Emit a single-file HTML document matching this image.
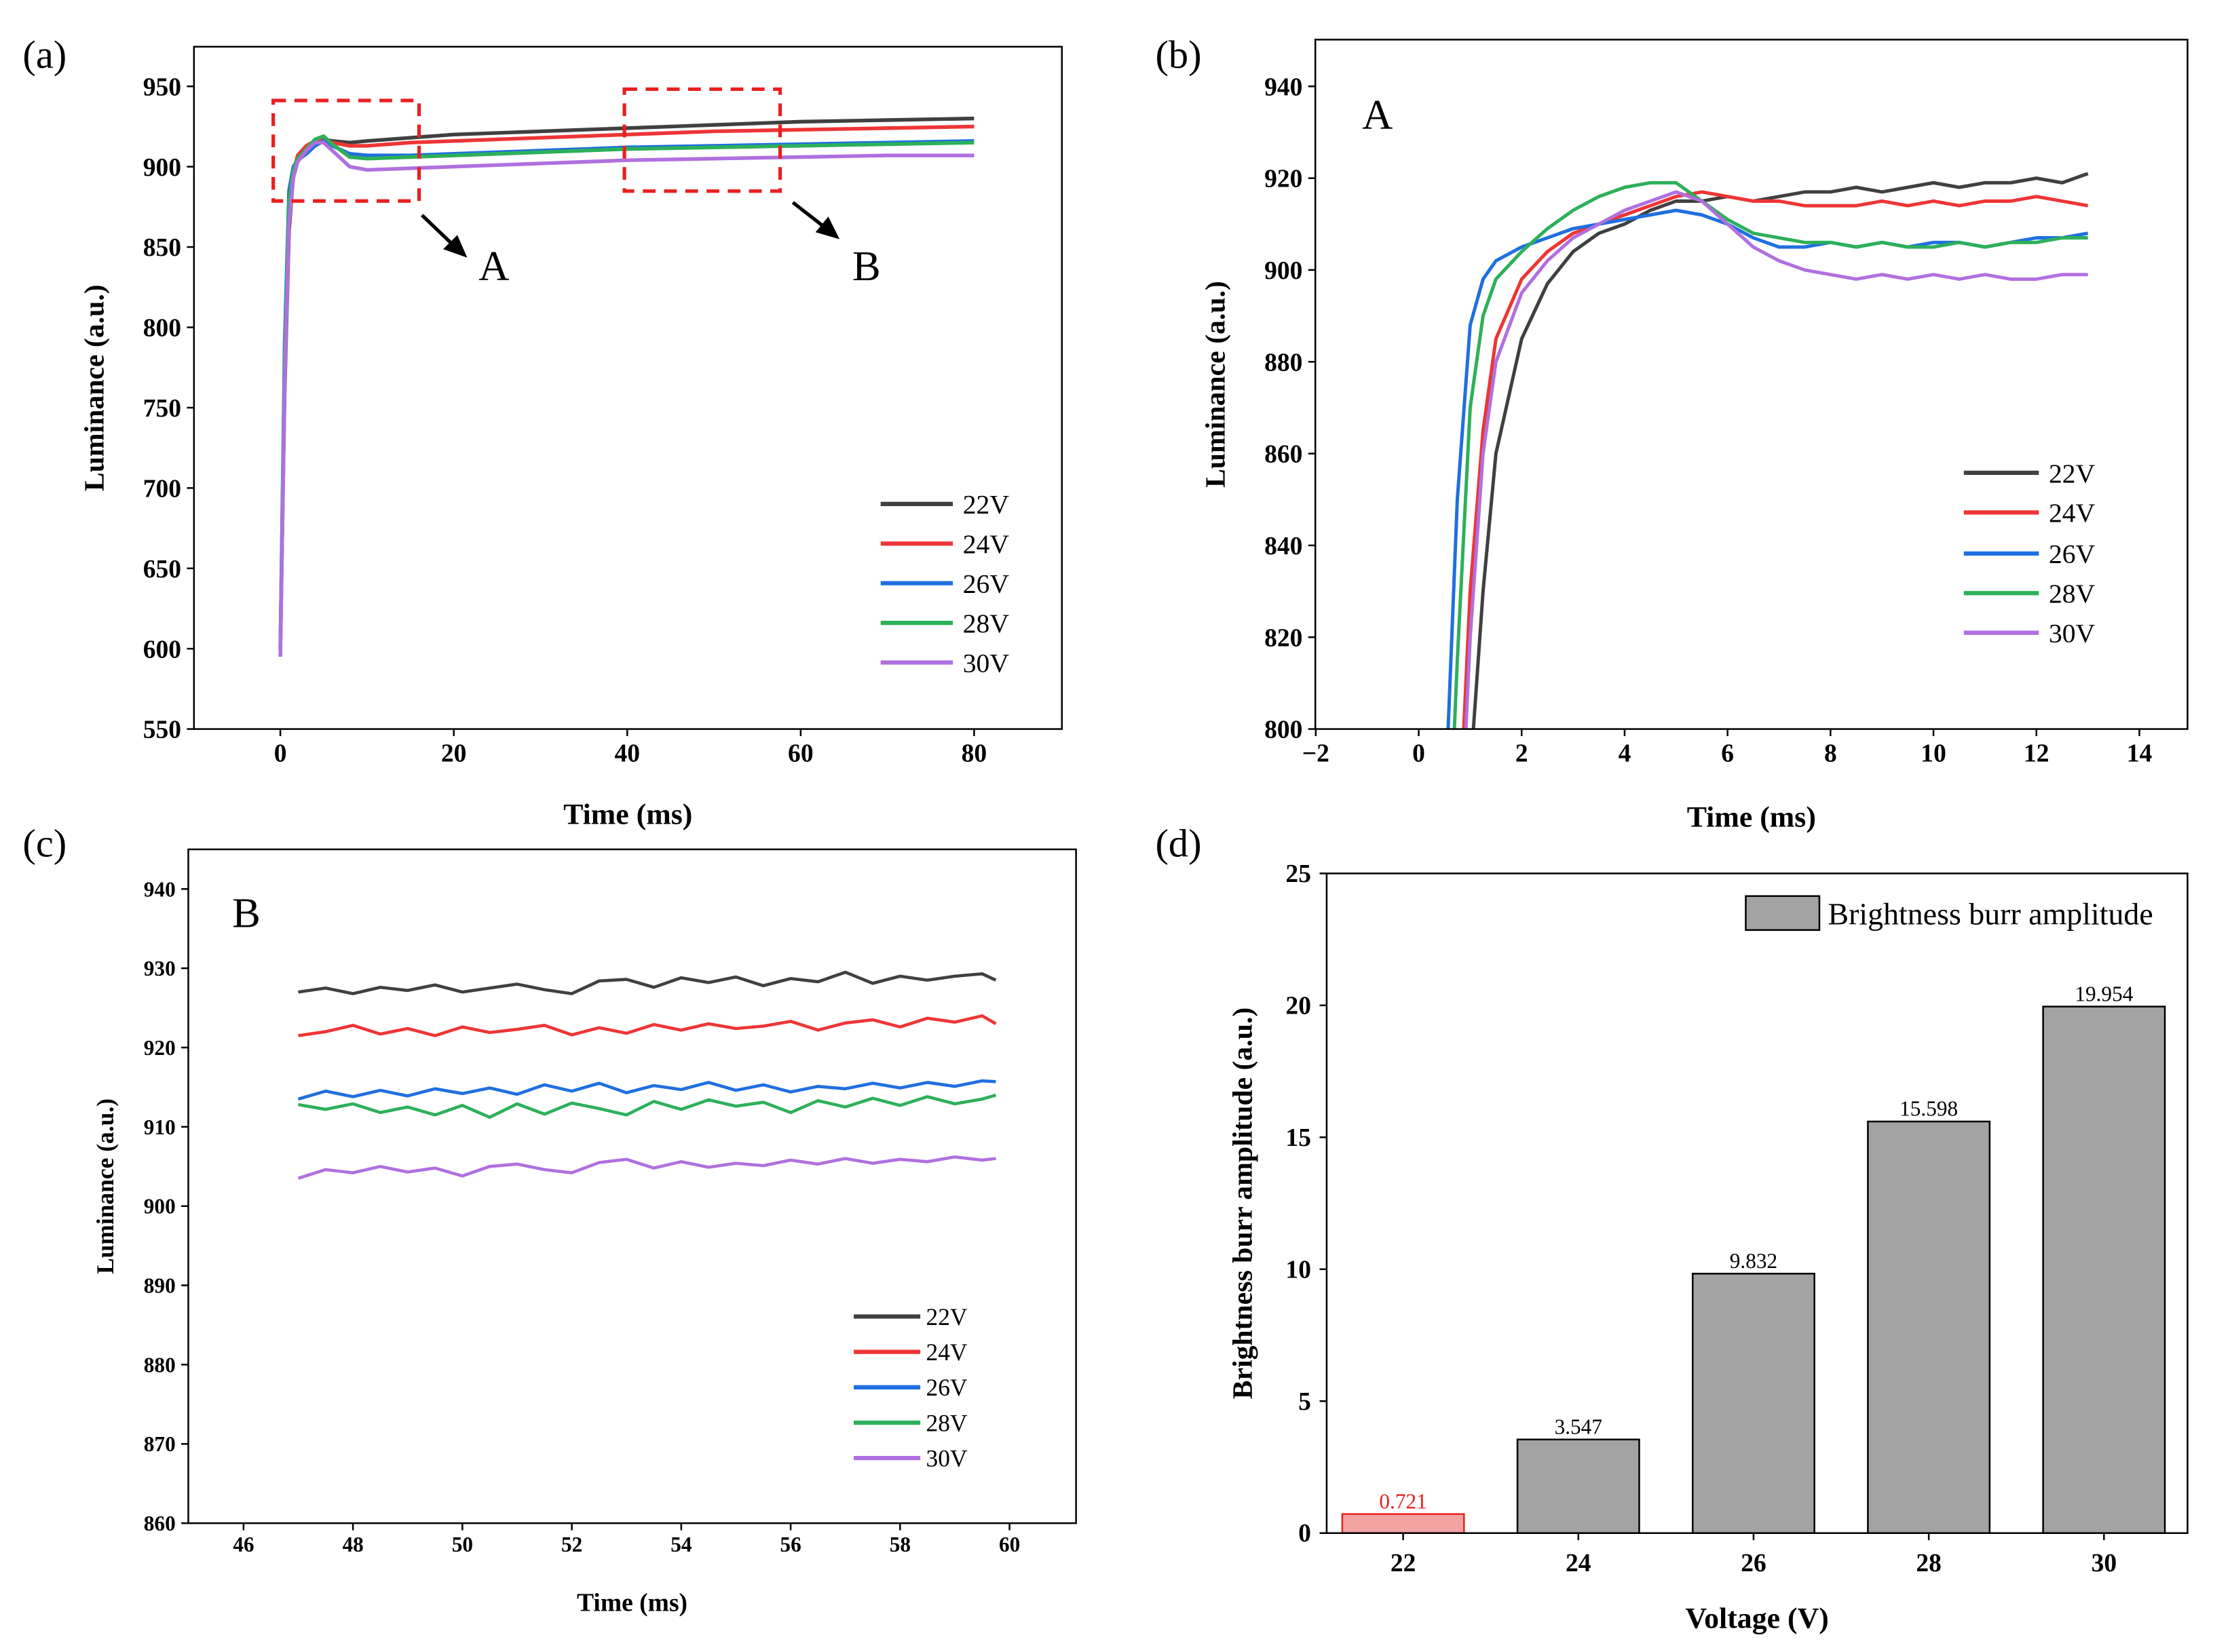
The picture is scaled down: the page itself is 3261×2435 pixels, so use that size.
<!DOCTYPE html>
<html><head><meta charset="utf-8"><style>
html,body{margin:0;padding:0;background:#fff}
svg{display:block}
text{font-family:"Liberation Serif",serif}
</style></head><body>
<svg id="s" width="3261" height="2435" viewBox="0 0 1563 1167" preserveAspectRatio="none" xmlns="http://www.w3.org/2000/svg"></svg>
<script>
const seriesNames=["22V","24V","26V","28V","30V"];
const colors=["#404040","#ee3535","#1f6fe0","#2db05a","#b070e0"];
// Panel (a)
const aTimes=[0,0.5,1,1.5,2,3,4,5,6,8,10,15,20,30,40,50,60,70,80];
const a22=[600,760,860,895,905,912,915,917,916,915,916,918,920,922,924,926,928,929,930];
const a24=[600,770,870,897,907,913,916,917,915,913,913,915,916,918,920,922,923,924,925];
const a26=[600,790,885,900,904,908,913,916,913,908,907,907,908,910,912,913,914,915,916];
const a28=[600,780,878,898,905,911,917,919,914,906,905,906,907,909,911,912,913,914,915];
const a30=[595,765,865,893,903,910,915,915,910,900,898,899,900,902,904,905,906,907,907];
const aXTicks=[0,20,40,60,80];
const aYTicks=[550,600,650,700,750,800,850,900,950];
// Panel (b)
const bTimes=[0.5,0.75,1,1.25,1.5,2,2.5,3,3.5,4,4.5,5,5.5,6,6.5,7,7.5,8,8.5,9,9.5,10,10.5,11,11.5,12,12.5,13];
const b22=[700,740,790,830,860,885,897,904,908,910,913,915,915,916,915,916,917,917,918,917,918,919,918,919,919,920,919,921];
const b24=[720,770,830,865,885,898,904,908,910,912,914,916,917,916,915,915,914,914,914,915,914,915,914,915,915,916,915,914];
const b26=[780,850,888,898,902,905,907,909,910,911,912,913,912,910,907,905,905,906,905,906,905,906,906,905,906,907,907,908];
const b28=[750,815,870,890,898,904,909,913,916,918,919,919,915,911,908,907,906,906,905,906,905,905,906,905,906,906,907,907];
const b30=[700,760,820,860,880,895,902,907,910,913,915,917,915,910,905,902,900,899,898,899,898,899,898,899,898,898,899,899];
const bXTicks=[-2,0,2,4,6,8,10,12,14];
const bYTicks=[800,820,840,860,880,900,920,940];
// Panel (c)
const cTimes=[47,47.5,48,48.5,49,49.5,50,50.5,51,51.5,52,52.5,53,53.5,54,54.5,55,55.5,56,56.5,57,57.5,58,58.5,59,59.5,59.75];
const c22=[927,927.5,926.8,927.6,927.2,927.9,927,927.5,928,927.3,926.8,928.4,928.6,927.6,928.8,928.2,928.9,927.8,928.7,928.3,929.5,928.1,929,928.5,929,929.3,928.5];
const c24=[921.5,922,922.8,921.7,922.4,921.5,922.6,921.9,922.3,922.8,921.6,922.5,921.8,922.9,922.2,923,922.4,922.7,923.3,922.2,923.1,923.5,922.6,923.7,923.2,924,923];
const c26=[913.5,914.5,913.8,914.6,913.9,914.8,914.2,914.9,914.1,915.3,914.5,915.5,914.3,915.2,914.7,915.6,914.6,915.3,914.4,915.1,914.8,915.5,914.9,915.6,915.1,915.8,915.7];
const c28=[912.8,912.2,912.9,911.8,912.5,911.5,912.7,911.2,912.9,911.6,913,912.3,911.5,913.2,912.2,913.4,912.6,913.1,911.8,913.3,912.5,913.6,912.7,913.8,912.9,913.5,914];
const c30=[903.5,904.6,904.2,905,904.3,904.8,903.8,905,905.3,904.6,904.2,905.5,905.9,904.8,905.6,904.9,905.4,905.1,905.8,905.3,906,905.4,905.9,905.6,906.2,905.8,906];
const cXTicks=[46,48,50,52,54,56,58,60];
const cYTicks=[860,870,880,890,900,910,920,930,940];
// Panel (d)
const dCats=["22","24","26","28","30"];
const dValues=[0.721,3.547,9.832,15.598,19.954];
const dLabels=["0.721","3.547","9.832","15.598","19.954"];
const dYTicks=[0,5,10,15,20,25];

const NS="http://www.w3.org/2000/svg";
const svg=document.getElementById("s");
function mk(tag,attrs,parent,txt){const e=document.createElementNS(NS,tag);for(const k in attrs)e.setAttribute(k,attrs[k]);if(txt!==undefined)e.textContent=txt;(parent||svg).appendChild(e);return e;}
function lin(d0,d1,r0,r1){return v=>r0+(v-d0)*(r1-r0)/(d1-d0);}

function axes(g,box,xs,ys,xT,yT,fs,xtitle,ytitle,xtY,ytX){
  const r=mk("rect",{x:box.x0,y:box.y0,width:box.x1-box.x0,height:box.y1-box.y0,fill:"none",stroke:"#000","stroke-width":1.2},g);
  
  
  xT.forEach(t=>{const x=xs(t);
    mk("line",{x1:x,x2:x,y1:box.y1,y2:box.y1+5,stroke:"#000","stroke-width":1.2},g);
    const tx=mk("text",{x:x,y:box.y1+fs+5,"text-anchor":"middle","font-size":fs,"font-weight":"bold"},g,t<0?"\u2212"+(-t):String(t));
    
    });
  yT.forEach(t=>{const y=ys(t);
    mk("line",{x1:box.x0-5,x2:box.x0,y1:y,y2:y,stroke:"#000","stroke-width":1.2},g);
    const tx=mk("text",{x:box.x0-9,y:y+fs*0.35,"text-anchor":"end","font-size":fs,"font-weight":"bold"},g,String(t));
    
    });
  const xt=mk("text",{x:(box.x0+box.x1)/2,y:xtY,"text-anchor":"middle","font-size":fs+3,"font-weight":"bold"},g,xtitle);
  
  
  const cy=(box.y0+box.y1)/2;
  const yt=mk("text",{x:ytX,y:cy,"text-anchor":"middle","font-size":fs+2,"font-weight":"bold",transform:`rotate(-90 ${ytX} ${cy})`},g,ytitle);
  
  
}
function series(g,box,xs,ys,times,data,sw,clipId){
  mk("clipPath",{id:clipId},g).appendChild((()=>{const r=document.createElementNS(NS,"rect");r.setAttribute("x",box.x0);r.setAttribute("y",box.y0);r.setAttribute("width",box.x1-box.x0);r.setAttribute("height",box.y1-box.y0);return r;})());
  data.forEach((arr,i)=>{
    const d=arr.map((v,j)=>(j?"L":"M")+xs(times[j]).toFixed(2)+","+ys(v).toFixed(2)).join("");
    const p=mk("path",{d:d,fill:"none",stroke:colors[i],"stroke-width":sw,"stroke-linejoin":"round","clip-path":`url(#${clipId})`},g);
    
    
  });
}
function legend(g,x0,x1,tx,yArr,fs){
  seriesNames.forEach((n,i)=>{
    const l=mk("line",{x1:x0,x2:x1,y1:yArr[i],y2:yArr[i],stroke:colors[i],"stroke-width":3},g);
    
    
    const t=mk("text",{x:tx,y:yArr[i]+fs*0.35,"font-size":fs},g,n);
    
    
  });
}
function plabel(x,y,s){const t=mk("text",{x:x,y:y,"font-size":28},svg,s);
  
  }

// (a)
{const g=mk("g",{});
 const box={x0:137,x1:750,y0:33,y1:515};
 const xs=lin(0,80,198,688), ys=lin(550,950,515,61);
 series(g,box,xs,ys,aTimes,[a22,a24,a26,a28,a30],2.6,"ca");
 axes(g,box,xs,ys,aXTicks,aYTicks,18,"Time (ms)","Luminance (a.u.)",582,73);
 legend(g,622,673,680,[356,384,412,440,468],19);
 const b1=mk("rect",{x:193,y:71,width:103,height:71,fill:"none",stroke:"#e82020","stroke-width":2.5,"stroke-dasharray":"9,6"},g);
 
 const b2=mk("rect",{x:441,y:63,width:110,height:72,fill:"none",stroke:"#e82020","stroke-width":2.5,"stroke-dasharray":"9,6"},g);
 
 mk("line",{x1:298,y1:152,x2:320,y2:173,stroke:"#000","stroke-width":2.5},g);
 mk("polygon",{points:"330,182 313,176 323,166",fill:"#000"},g);
 mk("line",{x1:560,y1:143,x2:583,y2:161,stroke:"#000","stroke-width":2.5},g);
 mk("polygon",{points:"593,169 576,164 585,153",fill:"#000"},g);
 const ta=mk("text",{x:338,y:198,"font-size":30},g,"A");
 const tb=mk("text",{x:602,y:198,"font-size":30},g,"B");
}
// (b)
{const g=mk("g",{});
 const box={x0:929,x1:1545,y0:28,y1:515};
 const xs=lin(0,14,1002,1511), ys=lin(800,940,515,61);
 series(g,box,xs,ys,bTimes,[b22,b24,b26,b28,b30],2.4,"cb");
 axes(g,box,xs,ys,bXTicks,bYTicks,18,"Time (ms)","Luminance (a.u.)",584,865);
 legend(g,1387,1440,1447,[334,362,391,419,447],19);
 const t=mk("text",{x:962,y:91,"font-size":30},g,"A");
}
// (c)
{const g=mk("g",{});
 const box={x0:133,x1:760,y0:600,y1:1076};
 const xs=lin(46,60,172,713), ys=lin(860,940,1076,628);
 series(g,box,xs,ys,cTimes,[c22,c24,c26,c28,c30],2.2,"cc");
 axes(g,box,xs,ys,cXTicks,cYTicks,15,"Time (ms)","Luminance (a.u.)",1138,80);
 legend(g,603,650,654,[930,955,980,1005,1030],17);
 const t=mk("text",{x:164,y:655,"font-size":30},g,"B");
}
// (d)
{const g=mk("g",{});
 const box={x0:937,x1:1545,y0:617,y1:1083};
 const ys=lin(0,25,1083,617);
 const xc=i=>991+i*123.75;
 dValues.forEach((v,i)=>{
   const red=i===0;
   const r=mk("rect",{x:xc(i)-43,y:ys(v),width:86,height:ys(0)-ys(v),fill:red?"#f4a3a3":"#a3a3a3",stroke:red?"#e82020":"#000","stroke-width":1.2},g);
   
   
   const t=mk("text",{x:xc(i),y:ys(v)-4,"text-anchor":"middle","font-size":15,fill:red?"#e82020":"#000"},g,dLabels[i]);
   
   
 });
 const r=mk("rect",{x:box.x0,y:box.y0,width:box.x1-box.x0,height:box.y1-box.y0,fill:"none",stroke:"#000","stroke-width":1.2},g);
 
 dCats.forEach((c,i)=>{mk("line",{x1:xc(i),x2:xc(i),y1:1083,y2:1088,stroke:"#000","stroke-width":1.2},g);
   const t=mk("text",{x:xc(i),y:1110,"text-anchor":"middle","font-size":18,"font-weight":"bold"},g,c);
   });
 dYTicks.forEach(v=>{const y=ys(v);mk("line",{x1:932,x2:937,y1:y,y2:y,stroke:"#000","stroke-width":1.2},g);
   const t=mk("text",{x:926,y:y+6,"text-anchor":"end","font-size":18,"font-weight":"bold"},g,String(v));
   });
 const xt=mk("text",{x:1241,y:1150,"text-anchor":"middle","font-size":21,"font-weight":"bold"},g,"Voltage (V)");
 
 const yt=mk("text",{x:884,y:850,"text-anchor":"middle","font-size":20,"font-weight":"bold",transform:"rotate(-90 884 850)"},g,"Brightness burr amplitude (a.u.)");
 
 const lb=mk("rect",{x:1233,y:633,width:52,height:24,fill:"#a3a3a3",stroke:"#000","stroke-width":1.2},g);
 
 const lt=mk("text",{x:1291,y:653,"font-size":22},g,"Brightness burr amplitude");
 
}
plabel(16,48,"(a)");plabel(816,48,"(b)");plabel(16,605,"(c)");plabel(816,605,"(d)");
</script>
</body></html>
